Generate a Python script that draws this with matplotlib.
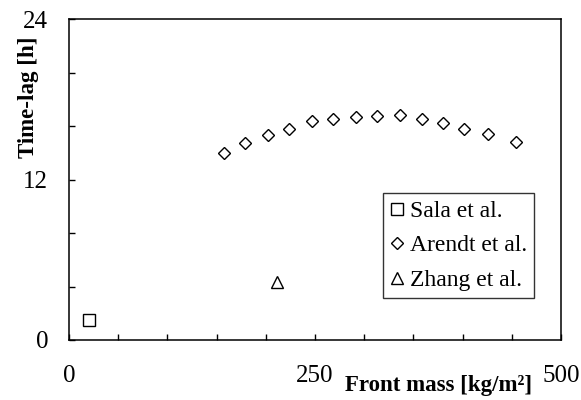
import numpy as np
import matplotlib
matplotlib.use("Agg")
import matplotlib.pyplot as plt
from matplotlib.ticker import MultipleLocator, FixedLocator

plt.rcParams['font.family'] = ['Liberation Serif', 'DejaVu Serif']

# front mass [kg/m2] and time-lag [h]
sala_x = [20]
sala_y = [1.5]
arendt_x = [158, 179, 202, 224, 247, 268, 292, 313, 336, 359, 380, 401, 426, 454]
arendt_y = [13.95, 14.7, 15.35, 15.8, 16.4, 16.5, 16.65, 16.75, 16.8, 16.55, 16.2, 15.78, 15.38, 14.78]
zhang_x = [211]
zhang_y = [4.3]

fig = plt.figure(figsize=(5.81, 4.0), dpi=100)
ax = fig.add_axes([0.1188, 0.15, 0.8468, 0.8025])

mk = dict(linestyle='none', markerfacecolor='white', markeredgecolor='black', markeredgewidth=1.0)
ax.plot(sala_x, sala_y, marker='s', markersize=8.5, label='Sala et al.', **mk)
ax.plot(arendt_x, arendt_y, marker='D', markersize=6.5, label='Arendt et al.', **mk)
ax.plot(zhang_x, zhang_y, marker='^', markersize=9, label='Zhang et al.', **mk)

ax.set_xlim(0, 500)
ax.set_ylim(0, 24)
ax.xaxis.set_major_locator(FixedLocator([0, 250, 500]))
ax.xaxis.set_minor_locator(MultipleLocator(50))
ax.yaxis.set_major_locator(FixedLocator([0, 12, 24]))
ax.yaxis.set_minor_locator(MultipleLocator(4))
ax.tick_params(axis='both', which='both', direction='in', length=4.5, width=1.0,
               labelsize=18, top=False, right=False)
ax.tick_params(axis='x', which='major', pad=18)
ax.tick_params(axis='y', which='major', pad=15)
for s in ax.spines.values():
    s.set_linewidth(1.1)

ax.set_xlabel('Front mass [kg/m²]', fontsize=16.5, fontweight='bold')
ax.xaxis.set_label_coords(0.752, -0.143)
ax.xaxis.label.set_va('center')
ax.set_ylabel('Time-lag [h]', fontsize=16.5, fontweight='bold')
ax.yaxis.set_label_coords(-0.082, 0.757)
ax.yaxis.label.set_va('center')

leg = ax.legend(loc='lower left', bbox_to_anchor=(0.638, 0.131), borderaxespad=0,
                fontsize=17, frameon=True, fancybox=False, handlelength=0.6,
                handletextpad=0.25, borderpad=0.3, labelspacing=0.55)
leg.get_frame().set_edgecolor('black')
leg.get_frame().set_linewidth(1.0)

fig.savefig('out.png', dpi=100)
